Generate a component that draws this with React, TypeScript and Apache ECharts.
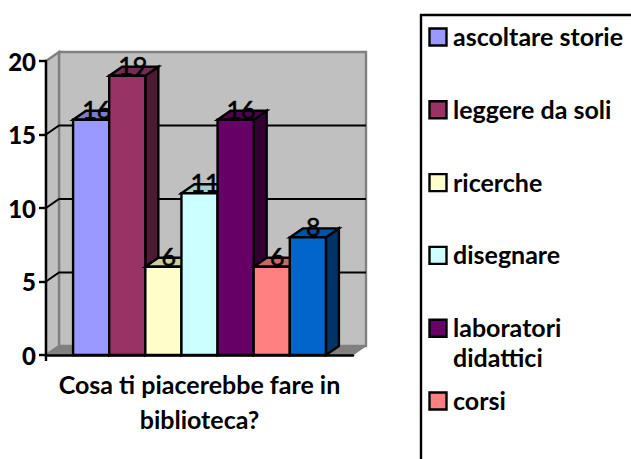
import React, { useEffect, useRef } from "react";
import * as echarts from "echarts";

const category = ["Cosa ti piacerebbe fare in\nbiblioteca?"];
const seriesValues = [16, 19, 6, 11, 16, 6, 8];
const seriesColors = ["#9999ff", "#993366", "#ffffcc", "#ccffff", "#660066", "#ff8080", "#0066cc"];
const legendNames = ["ascoltare storie", "leggere da soli", "ricerche", "disegnare", "laboratori\ndidattici", "corsi"];
const yTicks = [0, 5, 10, 15, 20];

const FONT = "Lato, 'Noto Sans', sans-serif";
const DX = 13;
const DY = -9;

function shade(hex: string, f: number) {
  const n = parseInt(hex.slice(1), 16);
  const c = [(n >> 16) & 255, (n >> 8) & 255, n & 255].map((v) => Math.round(v * f));
  return `rgb(${c[0]},${c[1]},${c[2]})`;
}

const renderFrame = (params: any, api: any) => {
  const cs = params.coordSys;
  const x0 = cs.x;
  const x1 = cs.x + cs.width;
  const yb = api.coord([0, yTicks[0]])[1];
  const yt = api.coord([0, yTicks[yTicks.length - 1]])[1];
  const children: any[] = [
    { type: "polygon", shape: { points: [[x0 + DX, yt + DY], [x1 + DX, yt + DY], [x1 + DX, yb + DY], [x0 + DX, yb + DY]] }, style: { fill: "#c0c0c0", stroke: "#808080", lineWidth: 2.4 } },
    { type: "polygon", shape: { points: [[x0, yt], [x0 + DX, yt + DY], [x0 + DX, yb + DY], [x0, yb]] }, style: { fill: "#c0c0c0", stroke: "#808080", lineWidth: 2.4 } },
    { type: "polygon", shape: { points: [[x0, yb], [x0 + DX, yb + DY], [x1 + DX, yb + DY], [x1, yb]] }, style: { fill: "#808080", stroke: "#808080", lineWidth: 1 } },
  ];
  yTicks.slice(1, -1).forEach((t) => {
    const y = api.coord([0, t])[1];
    children.push({ type: "polyline", shape: { points: [[x0, y], [x0 + DX, y + DY], [x1 + DX, y + DY]] }, style: { fill: "none", stroke: "#000", lineWidth: 2 } });
  });
  children.push({ type: "line", shape: { x1: x0, y1: yb, x2: x0, y2: yb + 6 }, style: { stroke: "#000", lineWidth: 2.4 } });
  return { type: "group", children };
};

const makeBarRenderer = (index: number) => (_params: any, api: any) => {
  const band = api.size([1, 0])[0];
  const w = band / 8.5;
  const left = api.coord([0, 0])[0] - (seriesValues.length * w) / 2 + index * w;
  const right = left + w;
  const yb = api.coord([0, 0])[1];
  const yt = api.coord([0, api.value(1)])[1];
  const color = seriesColors[index];
  const edge = { stroke: "#000", lineWidth: 2.4, lineJoin: "miter" };
  return {
    type: "group",
    children: [
      { type: "polygon", shape: { points: [[right, yt], [right + DX, yt + DY], [right + DX, yb + DY], [right, yb]] }, style: { fill: shade(color, 0.5), ...edge } },
      { type: "polygon", shape: { points: [[left, yt], [left + DX, yt + DY], [right + DX, yt + DY], [right, yt]] }, style: { fill: shade(color, 0.8), ...edge } },
      { type: "rect", shape: { x: left, y: yt, width: w, height: yb - yt }, style: { fill: color, ...edge } },
      { type: "text", z2: 5, style: { x: (left + right) / 2 + 5.5, y: yt - 11, text: String(api.value(1)), fill: "#000", stroke: "#000", lineWidth: 0.6, fontFamily: "Lato", fontSize: 25, fontWeight: 400, align: "center", verticalAlign: "middle" } },
    ],
  };
};

function legendGraphics() {
  const out: any[] = [
    { type: "polyline", shape: { points: [[632, 15], [421, 15], [421, 460]] }, style: { fill: "none", stroke: "#000", lineWidth: 2.4 } },
  ];
  legendNames.forEach((name, i) => {
    const cy = 37 + i * 72.8;
    out.push({ type: "rect", shape: { x: 429.5, y: cy - 8.5, width: 17, height: 17 }, style: { fill: seriesColors[i], stroke: "#000", lineWidth: 2.4 } });
    out.push({ type: "text", x: 453, y: cy - 16, style: { text: name, fill: "#000", font: `700 25px ${FONT}`, lineHeight: 30, textAlign: "left", textVerticalAlign: "top" } });
  });
  return out;
}

export default function App() {
  const ref = useRef<HTMLDivElement>(null);
  useEffect(() => {
    const chart = echarts.init(ref.current!, undefined, { renderer: "svg" });
    chart.setOption({
      animation: false,
      backgroundColor: "#fff",
      grid: { left: 46, top: 61, width: 307, height: 294 },
      xAxis: {
        type: "category",
        data: category,
        z: 10,
        name: category[0],
        nameLocation: "middle",
        nameGap: 11,
        nameTextStyle: { fontFamily: FONT, fontWeight: 700, fontSize: 25, color: "#000", lineHeight: 35 },
        axisLine: { onZero: false, lineStyle: { color: "#000", width: 2.6 } },
        axisTick: { show: false },
        axisLabel: { show: false },
      },
      yAxis: {
        type: "value",
        min: 0,
        max: 20,
        interval: 5,
        z: 10,
        axisLine: { show: true, lineStyle: { color: "#000", width: 2.4 } },
        axisTick: { show: true, length: 7, lineStyle: { color: "#000", width: 2.4 } },
        axisLabel: { margin: 10, fontFamily: FONT, fontWeight: 900, fontSize: 24, color: "#000" },
        splitLine: { show: false },
      },
      graphic: legendGraphics(),
      series: [
        { type: "custom", z: 1, clip: false, silent: true, data: [[0, 0]], encode: { x: 0, y: 1 }, renderItem: renderFrame },
        ...seriesValues.map((v, i) => ({
          type: "custom",
          z: 2 + i,
          clip: false,
          data: [[0, v]],
          encode: { x: 0, y: 1 },
          renderItem: makeBarRenderer(i),
        })),
      ],
    });
    return () => chart.dispose();
  }, []);
  return <div ref={ref} style={{ position: "absolute", left: 0, top: 0, width: 631, height: 459 }} />;
}
